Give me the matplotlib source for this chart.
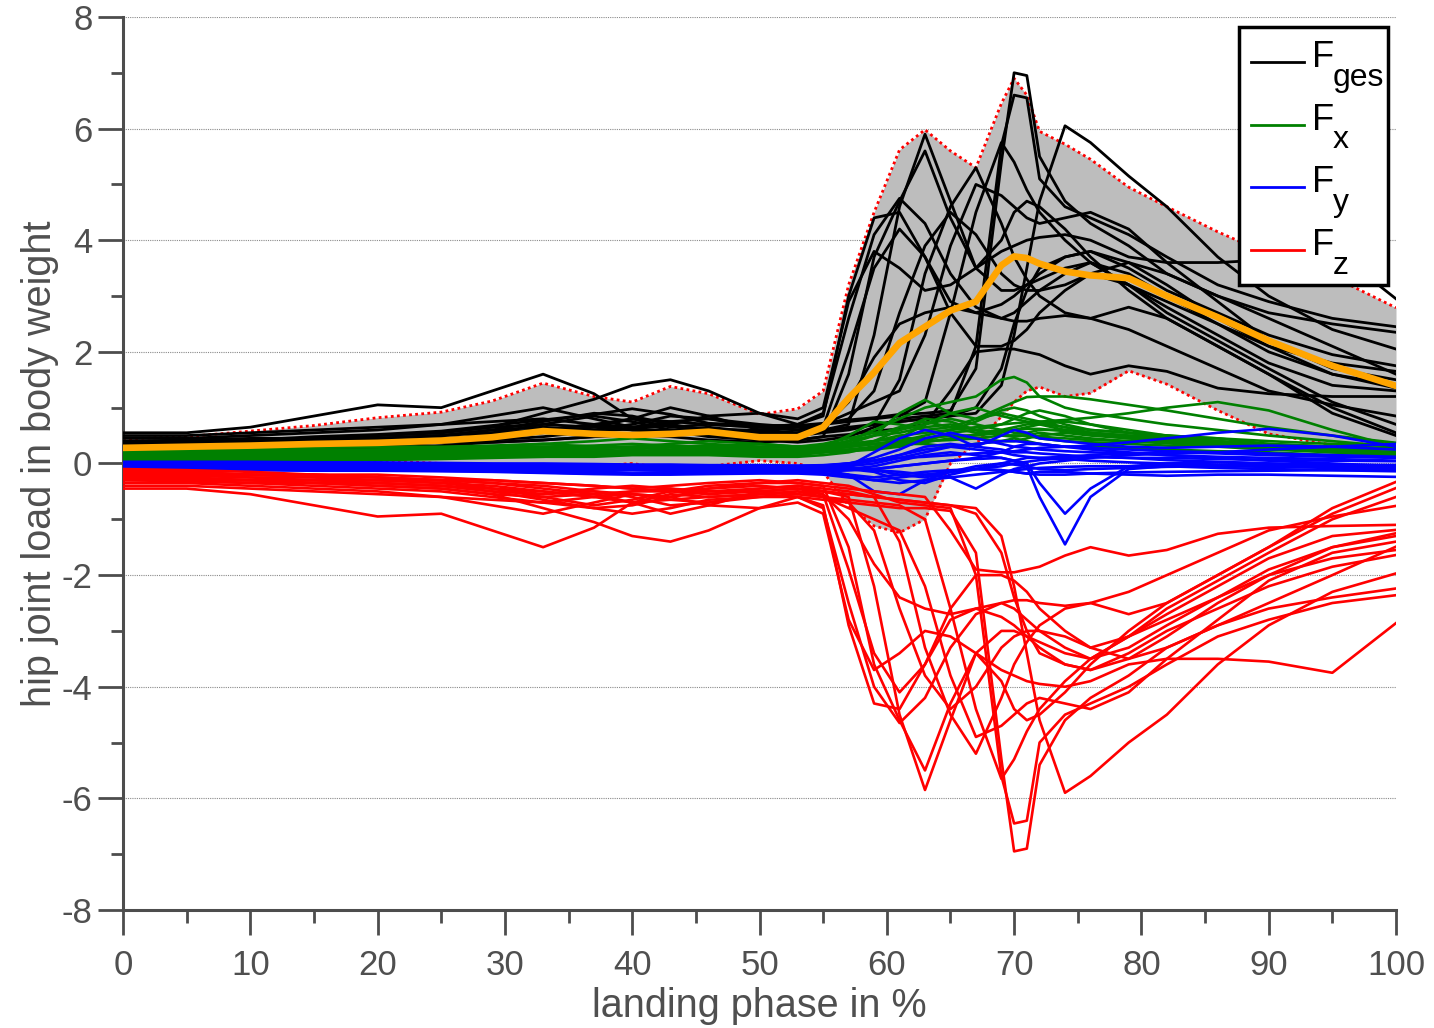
import matplotlib
matplotlib.use("Agg")
import matplotlib.pyplot as plt
from matplotlib.patches import Rectangle
from matplotlib.ticker import MultipleLocator

plt.rcParams['font.family'] = ['Liberation Sans', 'DejaVu Sans']
plt.rcParams['axes.unicode_minus'] = False

# landing phase grid (%)
phase = [0, 5, 10, 15, 20, 25,
         29, 33, 37, 40, 43, 46, 50,
         53, 55, 57, 59, 61, 63, 65,
         67, 69, 70, 71, 72, 74,
         76, 79, 82, 86, 90, 95, 100]

# mean resultant load and its spread band
mean_ges = [0.28, 0.30, 0.32, 0.35, 0.37, 0.41,
            0.47, 0.58, 0.53, 0.51, 0.53, 0.57, 0.47,
            0.47, 0.65, 1.17, 1.63, 2.16, 2.45, 2.74,
            2.90, 3.55, 3.71, 3.68, 3.58, 3.44,
            3.37, 3.32, 3.00, 2.62, 2.20, 1.75, 1.39]
band_upper = [0.44, 0.48, 0.58, 0.68, 0.82, 0.92,
              1.12, 1.44, 1.20, 1.10, 1.38, 1.25, 0.88,
              0.98, 1.30, 3.20, 4.50, 5.62, 5.98, 5.60,
              5.30, 6.45, 6.90, 6.60, 5.95, 5.72,
              5.45, 4.95, 4.60, 4.15, 3.75, 3.35, 2.79]
band_lower = [0.15, 0.15, 0.14, 0.10, 0.05, 0.00,
              -0.05, -0.10, -0.05, 0.00, -0.10, -0.05, 0.05,
              0.00, -0.15, -0.75, -1.12, -1.24, -1.00, 0.00,
              0.35, 0.84, 1.10, 1.30, 1.37, 1.20,
              1.26, 1.66, 1.42, 0.95, 0.53, 0.33, 0.37]

# resultant hip joint load per trial
f_ges = [
    [0.55, 0.55, 0.65, 0.85, 1.05, 1.00, 1.30, 1.60, 1.25, 0.80, 0.65, 0.70, 0.65,
     0.70, 0.90, 2.60, 4.10, 4.75, 4.30, 3.40, 2.80, 2.60, 2.70, 2.90, 3.10, 3.40,
     3.60, 3.40, 3.00, 2.50, 2.10, 1.80, 1.65],
    [0.35, 0.40, 0.40, 0.45, 0.50, 0.55, 0.65, 0.90, 1.15, 1.40, 1.50, 1.30, 0.90,
     0.70, 0.85, 3.00, 4.40, 4.50, 3.70, 2.90, 2.70, 2.85, 3.00, 3.20, 3.40, 3.70,
     3.80, 3.50, 3.10, 2.70, 2.30, 1.95, 1.75],
    [0.30, 0.30, 0.35, 0.35, 0.40, 0.45, 0.50, 0.60, 0.70, 0.60, 0.55, 0.60, 0.55,
     0.50, 0.60, 0.70, 2.30, 4.60, 5.90, 4.70, 3.50, 3.10, 3.10, 3.20, 3.30, 3.50,
     3.60, 3.20, 2.70, 2.20, 1.70, 1.10, 0.70],
    [0.22, 0.22, 0.28, 0.28, 0.32, 0.38, 0.42, 0.48, 0.58, 0.62, 0.68, 0.52, 0.42,
     0.42, 0.48, 1.60, 3.70, 4.70, 5.60, 4.40, 3.50, 4.00, 4.50, 4.70, 4.60, 4.20,
     3.70, 3.10, 2.60, 2.10, 1.60, 1.00, 0.55],
    [0.38, 0.38, 0.42, 0.48, 0.52, 0.58, 0.68, 0.78, 0.88, 0.98, 0.88, 0.72, 0.68,
     0.68, 0.72, 0.78, 0.82, 0.88, 0.90, 0.95, 1.70, 5.40, 7.00, 6.95, 5.50, 4.70,
     4.30, 3.90, 3.40, 3.00, 2.70, 2.50, 2.35],
    [0.18, 0.20, 0.22, 0.28, 0.28, 0.32, 0.38, 0.42, 0.48, 0.52, 0.58, 0.48, 0.42,
     0.38, 0.42, 0.48, 0.65, 0.80, 0.85, 0.90, 2.10, 5.70, 6.60, 6.55, 5.10, 4.60,
     4.40, 4.10, 3.70, 3.20, 2.90, 2.60, 2.45],
    [0.28, 0.30, 0.32, 0.38, 0.38, 0.42, 0.52, 0.62, 0.52, 0.48, 0.52, 0.62, 0.58,
     0.52, 0.58, 0.62, 0.70, 0.75, 0.80, 0.85, 0.90, 1.40, 2.30, 3.50, 4.70, 6.05,
     5.75, 5.15, 4.60, 3.70, 3.00, 2.40, 2.05],
    [0.45, 0.45, 0.50, 0.55, 0.60, 0.70, 0.85, 1.00, 0.80, 0.65, 0.70, 0.85, 0.90,
     0.80, 1.00, 2.90, 3.80, 3.50, 3.10, 3.20, 3.50, 3.80, 3.90, 4.00, 4.05, 4.10,
     4.00, 3.70, 3.60, 3.60, 3.65, 3.85, 2.95],
    [0.20, 0.25, 0.30, 0.30, 0.35, 0.40, 0.55, 0.70, 0.85, 0.75, 0.60, 0.55, 0.50,
     0.55, 0.65, 2.00, 3.50, 4.20, 3.70, 2.70, 2.10, 2.10, 2.20, 2.40, 2.70, 3.10,
     3.40, 3.20, 2.80, 2.30, 1.80, 1.40, 1.30],
    [0.38, 0.38, 0.40, 0.45, 0.45, 0.50, 0.60, 0.65, 0.60, 0.70, 0.85, 0.80, 0.65,
     0.60, 0.70, 0.80, 1.30, 2.70, 3.90, 4.50, 4.10, 3.40, 3.20, 3.10, 3.10, 3.20,
     3.40, 3.60, 3.40, 3.00, 2.60, 2.10, 1.60],
    [0.28, 0.30, 0.30, 0.35, 0.40, 0.40, 0.45, 0.55, 0.65, 0.60, 0.60, 0.65, 0.55,
     0.50, 0.55, 0.60, 0.70, 1.50, 3.40, 4.60, 5.30, 4.30, 3.70, 3.30, 3.00, 2.70,
     2.60, 2.80, 2.60, 2.10, 1.60, 0.90, 0.50],
    [0.32, 0.35, 0.40, 0.40, 0.45, 0.50, 0.60, 0.75, 0.90, 0.85, 0.70, 0.60, 0.60,
     0.65, 0.70, 0.75, 0.80, 0.85, 1.10, 2.70, 4.50, 5.75, 5.40, 4.90, 4.50, 4.00,
     3.60, 3.20, 2.90, 2.50, 2.00, 1.60, 1.40],
    [0.50, 0.50, 0.55, 0.60, 0.65, 0.70, 0.75, 0.80, 0.70, 0.65, 0.75, 0.80, 0.70,
     0.65, 0.70, 0.90, 1.10, 1.30, 2.30, 3.90, 5.00, 4.80, 4.60, 4.40, 4.30, 4.40,
     4.50, 4.20, 3.60, 2.90, 2.20, 1.70, 1.50],
    [0.22, 0.25, 0.28, 0.30, 0.32, 0.38, 0.38, 0.42, 0.48, 0.52, 0.48, 0.42, 0.38,
     0.42, 0.48, 0.52, 0.58, 0.62, 0.70, 1.30, 2.00, 2.05, 2.05, 2.00, 1.95, 1.75,
     1.60, 1.75, 1.65, 1.35, 1.25, 1.20, 1.20],
    [0.40, 0.42, 0.45, 0.45, 0.50, 0.55, 0.65, 0.70, 0.65, 0.80, 1.00, 0.85, 0.60,
     0.55, 0.60, 0.65, 0.70, 0.75, 0.80, 0.85, 1.00, 1.70, 2.50, 3.10, 3.50, 3.70,
     3.80, 3.60, 3.20, 2.60, 2.10, 1.60, 1.35],
    [0.35, 0.35, 0.40, 0.40, 0.45, 0.50, 0.55, 0.60, 0.70, 0.80, 0.75, 0.70, 0.65,
     0.60, 0.65, 1.10, 1.90, 2.50, 2.70, 2.80, 2.70, 2.60, 2.55, 2.55, 2.60, 2.65,
     2.60, 2.40, 2.10, 1.70, 1.30, 1.05, 0.85],
]

# load components per trial
f_x = [
    [0.10, 0.10, 0.12, 0.12, 0.15, 0.15, 0.18, 0.20, 0.20, 0.20, 0.22, 0.22, 0.20,
     0.20, 0.25, 0.40, 0.60, 0.80, 1.00, 1.10, 1.20, 1.50, 1.55, 1.45, 1.20, 1.00,
     0.90, 0.80, 0.70, 0.60, 0.50, 0.40, 0.30],
    [0.05, 0.05, 0.06, 0.08, 0.10, 0.10, 0.12, 0.15, 0.18, 0.20, 0.20, 0.18, 0.15,
     0.15, 0.20, 0.35, 0.50, 0.90, 1.14, 0.90, 0.80, 1.00, 1.10, 1.19, 1.20, 1.20,
     1.15, 1.05, 0.95, 0.80, 0.65, 0.50, 0.37],
    [0.15, 0.15, 0.15, 0.18, 0.20, 0.20, 0.22, 0.25, 0.25, 0.22, 0.20, 0.20, 0.20,
     0.22, 0.25, 0.30, 0.35, 0.40, 0.50, 0.60, 0.65, 0.70, 0.72, 0.74, 0.75, 0.78,
     0.82, 0.90, 1.00, 1.10, 0.95, 0.60, 0.30],
    [0.20, 0.20, 0.22, 0.22, 0.25, 0.28, 0.30, 0.35, 0.30, 0.28, 0.30, 0.32, 0.30,
     0.28, 0.30, 0.50, 0.75, 0.70, 0.60, 0.65, 0.80, 0.90, 0.85, 0.80, 0.75, 0.65,
     0.60, 0.55, 0.50, 0.45, 0.35, 0.30, 0.25],
    [0.08, 0.08, 0.10, 0.10, 0.12, 0.12, 0.15, 0.18, 0.20, 0.25, 0.30, 0.28, 0.22,
     0.20, 0.20, 0.25, 0.30, 0.45, 0.70, 0.90, 1.00, 0.85, 0.80, 0.75, 0.70, 0.60,
     0.55, 0.50, 0.45, 0.40, 0.30, 0.22, 0.18],
    [0.12, 0.12, 0.13, 0.15, 0.15, 0.18, 0.20, 0.22, 0.20, 0.20, 0.25, 0.30, 0.35,
     0.30, 0.30, 0.35, 0.40, 0.45, 0.45, 0.50, 0.50, 0.55, 0.60, 0.65, 0.70, 0.75,
     0.70, 0.60, 0.50, 0.40, 0.30, 0.25, 0.20],
    [0.05, 0.06, 0.06, 0.07, 0.08, 0.10, 0.12, 0.12, 0.15, 0.18, 0.20, 0.20, 0.18,
     0.20, 0.25, 0.30, 0.35, 0.40, 0.45, 0.50, 0.45, 0.40, 0.40, 0.45, 0.50, 0.55,
     0.50, 0.45, 0.40, 0.35, 0.28, 0.20, 0.15],
    [0.18, 0.18, 0.20, 0.20, 0.22, 0.25, 0.28, 0.30, 0.32, 0.35, 0.32, 0.30, 0.28,
     0.30, 0.35, 0.45, 0.55, 0.60, 0.70, 0.80, 0.70, 0.60, 0.55, 0.55, 0.60, 0.60,
     0.55, 0.50, 0.45, 0.40, 0.35, 0.30, 0.28],
    [0.10, 0.10, 0.10, 0.12, 0.12, 0.15, 0.15, 0.20, 0.25, 0.20, 0.18, 0.20, 0.22,
     0.25, 0.28, 0.30, 0.40, 0.60, 0.80, 0.75, 0.60, 0.50, 0.50, 0.50, 0.45, 0.40,
     0.38, 0.35, 0.32, 0.30, 0.25, 0.20, 0.15],
    [0.22, 0.22, 0.22, 0.25, 0.25, 0.28, 0.30, 0.30, 0.28, 0.30, 0.35, 0.40, 0.35,
     0.30, 0.30, 0.35, 0.40, 0.50, 0.55, 0.60, 0.75, 0.95, 1.00, 0.95, 0.85, 0.70,
     0.60, 0.55, 0.50, 0.45, 0.40, 0.35, 0.32],
    [0.03, 0.03, 0.05, 0.05, 0.06, 0.08, 0.10, 0.12, 0.12, 0.15, 0.15, 0.15, 0.12,
     0.12, 0.15, 0.20, 0.30, 0.35, 0.35, 0.30, 0.35, 0.40, 0.45, 0.40, 0.35, 0.30,
     0.30, 0.28, 0.25, 0.22, 0.20, 0.15, 0.12],
    [0.15, 0.15, 0.17, 0.18, 0.20, 0.22, 0.25, 0.28, 0.30, 0.28, 0.25, 0.25, 0.25,
     0.25, 0.30, 0.40, 0.50, 0.55, 0.65, 0.70, 0.60, 0.50, 0.48, 0.50, 0.55, 0.50,
     0.45, 0.40, 0.38, 0.35, 0.30, 0.25, 0.20],
    [0.06, 0.07, 0.08, 0.10, 0.10, 0.12, 0.14, 0.16, 0.18, 0.20, 0.20, 0.20, 0.20,
     0.18, 0.20, 0.22, 0.25, 0.30, 0.40, 0.55, 0.60, 0.70, 0.80, 0.90, 0.95, 0.85,
     0.70, 0.55, 0.45, 0.38, 0.30, 0.22, 0.18],
    [0.25, 0.25, 0.25, 0.28, 0.30, 0.30, 0.32, 0.35, 0.40, 0.45, 0.40, 0.35, 0.30,
     0.30, 0.32, 0.40, 0.50, 0.65, 0.75, 0.65, 0.55, 0.60, 0.65, 0.70, 0.72, 0.65,
     0.55, 0.48, 0.42, 0.38, 0.33, 0.28, 0.25],
    [0.10, 0.11, 0.12, 0.13, 0.14, 0.15, 0.16, 0.18, 0.20, 0.22, 0.22, 0.22, 0.20,
     0.22, 0.22, 0.25, 0.28, 0.32, 0.38, 0.45, 0.52, 0.58, 0.60, 0.62, 0.62, 0.58,
     0.52, 0.45, 0.40, 0.35, 0.28, 0.22, 0.18],
    [0.14, 0.14, 0.15, 0.16, 0.18, 0.20, 0.22, 0.25, 0.28, 0.30, 0.30, 0.28, 0.25,
     0.22, 0.25, 0.30, 0.35, 0.38, 0.40, 0.42, 0.45, 0.50, 0.50, 0.50, 0.48, 0.45,
     0.42, 0.40, 0.36, 0.32, 0.28, 0.22, 0.20],
]

f_y = [
    [-0.02, -0.02, -0.03, -0.03, -0.04, -0.05, -0.06, -0.08, -0.08, -0.07, -0.08, -0.10, -0.10,
     -0.10, -0.12, -0.20, -0.50, -0.55, -0.30, -0.15, -0.10, -0.05, 0.00, 0.03, 0.06, 0.10,
     0.12, 0.10, 0.06, 0.03, 0.00, -0.02, -0.03],
    [0.01, 0.01, 0.00, 0.00, -0.01, -0.02, -0.03, -0.04, -0.05, -0.05, -0.06, -0.06, -0.07,
     -0.08, -0.08, -0.10, -0.12, -0.15, -0.20, -0.25, -0.45, -0.20, -0.10, -0.05, 0.00, 0.05,
     0.10, 0.15, 0.18, 0.20, 0.25, 0.30, 0.35],
    [-0.06, -0.06, -0.07, -0.08, -0.08, -0.10, -0.12, -0.15, -0.14, -0.12, -0.13, -0.15, -0.16,
     -0.15, -0.15, -0.12, -0.10, -0.05, 0.00, 0.05, 0.08, 0.10, 0.05, -0.05, -0.60, -1.45,
     -0.60, -0.10, -0.05, -0.08, -0.10, -0.12, -0.14],
    [-0.04, -0.04, -0.05, -0.05, -0.06, -0.07, -0.08, -0.10, -0.12, -0.11, -0.10, -0.12, -0.13,
     -0.12, -0.12, -0.10, -0.05, 0.05, 0.15, 0.20, 0.15, 0.10, 0.05, 0.00, -0.35, -0.90,
     -0.45, -0.05, 0.00, 0.02, 0.00, -0.05, -0.08],
    [0.02, 0.02, 0.02, 0.01, 0.00, 0.00, -0.01, -0.02, -0.02, -0.03, -0.04, -0.05, -0.05,
     -0.06, -0.05, 0.00, 0.10, 0.25, 0.45, 0.55, 0.45, 0.35, 0.30, 0.28, 0.25, 0.22,
     0.20, 0.18, 0.15, 0.12, 0.10, 0.08, 0.05],
    [-0.08, -0.08, -0.09, -0.10, -0.10, -0.11, -0.12, -0.14, -0.16, -0.18, -0.17, -0.16, -0.15,
     -0.16, -0.18, -0.22, -0.30, -0.25, -0.20, -0.15, -0.10, -0.12, -0.15, -0.18, -0.15, -0.15,
     -0.18, -0.20, -0.22, -0.20, -0.20, -0.22, -0.24],
    [0.00, 0.00, 0.00, -0.01, -0.01, -0.02, -0.02, -0.03, -0.04, -0.04, -0.05, -0.05, -0.04,
     -0.04, -0.03, 0.00, 0.05, 0.10, 0.12, 0.15, 0.18, 0.20, 0.22, 0.25, 0.28, 0.30,
     0.32, 0.38, 0.45, 0.55, 0.62, 0.50, 0.30],
    [-0.03, -0.03, -0.04, -0.04, -0.05, -0.05, -0.06, -0.07, -0.08, -0.08, -0.09, -0.09, -0.10,
     -0.10, -0.10, -0.05, 0.20, 0.45, 0.60, 0.50, 0.30, 0.25, 0.20, 0.20, 0.18, 0.15,
     0.12, 0.10, 0.10, 0.08, 0.06, 0.05, 0.04],
    [-0.10, -0.10, -0.11, -0.12, -0.12, -0.13, -0.14, -0.16, -0.18, -0.18, -0.18, -0.17, -0.16,
     -0.17, -0.18, -0.20, -0.25, -0.20, -0.15, -0.12, -0.10, -0.12, -0.15, -0.18, -0.20, -0.20,
     -0.18, -0.16, -0.15, -0.14, -0.13, -0.12, -0.12],
    [-0.01, -0.01, -0.02, -0.02, -0.02, -0.03, -0.04, -0.05, -0.05, -0.06, -0.06, -0.07, -0.07,
     -0.07, -0.07, -0.05, 0.00, 0.10, 0.20, 0.30, 0.35, 0.40, 0.40, 0.38, 0.35, 0.30,
     0.28, 0.25, 0.22, 0.20, 0.18, 0.15, 0.12],
    [-0.05, -0.05, -0.06, -0.06, -0.07, -0.08, -0.10, -0.12, -0.10, -0.08, -0.10, -0.12, -0.12,
     -0.11, -0.10, -0.10, -0.15, -0.30, -0.35, -0.20, -0.10, 0.00, 0.05, 0.10, 0.10, 0.08,
     0.05, 0.02, 0.00, -0.02, -0.04, -0.06, -0.08],
    [0.03, 0.03, 0.03, 0.02, 0.02, 0.01, 0.00, 0.00, -0.01, -0.02, -0.02, -0.03, -0.03,
     -0.04, -0.04, 0.00, 0.05, 0.15, 0.30, 0.35, 0.30, 0.50, 0.60, 0.55, 0.45, 0.40,
     0.35, 0.30, 0.28, 0.30, 0.32, 0.30, 0.25],
    [-0.07, -0.07, -0.08, -0.08, -0.09, -0.10, -0.10, -0.11, -0.12, -0.12, -0.13, -0.14, -0.14,
     -0.13, -0.13, -0.12, -0.10, -0.05, 0.00, 0.05, 0.10, 0.20, 0.30, 0.35, 0.35, 0.30,
     0.25, 0.20, 0.15, 0.10, 0.05, 0.00, -0.05],
    [-0.02, -0.02, -0.02, -0.03, -0.03, -0.04, -0.05, -0.06, -0.06, -0.05, -0.05, -0.06, -0.06,
     -0.06, -0.06, -0.08, -0.12, -0.20, -0.25, -0.15, -0.05, 0.00, -0.02, -0.05, -0.10, -0.12,
     -0.10, -0.08, -0.06, -0.05, -0.06, -0.08, -0.10],
    [-0.12, -0.12, -0.12, -0.13, -0.13, -0.14, -0.15, -0.17, -0.19, -0.20, -0.20, -0.19, -0.18,
     -0.18, -0.20, -0.25, -0.30, -0.35, -0.30, -0.25, -0.20, -0.15, -0.12, -0.10, -0.08, -0.06,
     -0.05, -0.05, -0.04, -0.03, -0.03, -0.03, -0.03],
    [0.00, 0.00, 0.00, 0.00, -0.01, -0.01, -0.02, -0.02, -0.03, -0.03, -0.03, -0.04, -0.04,
     -0.05, -0.05, -0.03, 0.05, 0.15, 0.25, 0.30, 0.25, 0.20, 0.15, 0.12, 0.10, 0.12,
     0.15, 0.18, 0.20, 0.18, 0.15, 0.12, 0.10],
]

f_z = [
    [-0.45, -0.45, -0.55, -0.75, -0.95, -0.90, -1.20, -1.50, -1.15, -0.70, -0.55, -0.60, -0.55,
     -0.60, -0.80, -2.50, -4.00, -4.65, -4.20, -3.30, -2.70, -2.50, -2.60, -2.80, -3.00, -3.30,
     -3.50, -3.30, -2.90, -2.40, -2.00, -1.70, -1.55],
    [-0.25, -0.30, -0.30, -0.35, -0.40, -0.45, -0.55, -0.80, -1.05, -1.30, -1.40, -1.20, -0.80,
     -0.60, -0.75, -2.90, -4.30, -4.40, -3.60, -2.80, -2.60, -2.75, -2.90, -3.10, -3.30, -3.60,
     -3.70, -3.40, -3.00, -2.60, -2.20, -1.85, -1.64],
    [-0.20, -0.20, -0.25, -0.25, -0.30, -0.35, -0.40, -0.50, -0.60, -0.50, -0.45, -0.50, -0.45,
     -0.40, -0.50, -0.60, -2.20, -4.50, -5.85, -4.60, -3.40, -3.00, -3.00, -3.10, -3.20, -3.40,
     -3.50, -3.10, -2.60, -2.10, -1.60, -1.00, -0.60],
    [-0.15, -0.15, -0.20, -0.20, -0.25, -0.30, -0.35, -0.40, -0.50, -0.55, -0.60, -0.45, -0.35,
     -0.35, -0.40, -1.50, -3.60, -4.60, -5.50, -4.30, -3.40, -3.90, -4.40, -4.60, -4.50, -4.10,
     -3.60, -3.00, -2.50, -2.00, -1.50, -0.90, -0.44],
    [-0.30, -0.30, -0.35, -0.40, -0.45, -0.50, -0.60, -0.70, -0.80, -0.90, -0.80, -0.65, -0.60,
     -0.60, -0.65, -0.70, -0.75, -0.80, -0.80, -0.85, -1.60, -5.30, -6.95, -6.90, -5.40, -4.60,
     -4.20, -3.80, -3.30, -2.90, -2.60, -2.40, -2.24],
    [-0.10, -0.12, -0.15, -0.20, -0.20, -0.25, -0.30, -0.35, -0.40, -0.45, -0.50, -0.40, -0.35,
     -0.30, -0.35, -0.40, -0.55, -0.70, -0.75, -0.80, -2.00, -5.60, -6.45, -6.40, -5.00, -4.50,
     -4.30, -4.00, -3.60, -3.10, -2.80, -2.50, -2.36],
    [-0.20, -0.22, -0.25, -0.30, -0.30, -0.35, -0.45, -0.55, -0.45, -0.40, -0.45, -0.55, -0.50,
     -0.45, -0.50, -0.55, -0.60, -0.65, -0.70, -0.75, -0.80, -1.30, -2.20, -3.40, -4.60, -5.90,
     -5.60, -5.00, -4.50, -3.60, -2.90, -2.30, -1.97],
    [-0.35, -0.35, -0.40, -0.45, -0.50, -0.60, -0.75, -0.90, -0.70, -0.55, -0.60, -0.75, -0.80,
     -0.70, -0.90, -2.80, -3.70, -3.40, -3.00, -3.10, -3.40, -3.70, -3.80, -3.90, -3.95, -4.00,
     -3.90, -3.60, -3.50, -3.50, -3.55, -3.75, -2.86],
    [-0.12, -0.15, -0.20, -0.20, -0.25, -0.30, -0.45, -0.60, -0.75, -0.65, -0.50, -0.45, -0.40,
     -0.45, -0.55, -1.90, -3.40, -4.10, -3.60, -2.60, -2.00, -2.00, -2.10, -2.30, -2.60, -3.00,
     -3.30, -3.10, -2.70, -2.20, -1.70, -1.30, -1.19],
    [-0.28, -0.28, -0.30, -0.35, -0.35, -0.40, -0.50, -0.55, -0.50, -0.60, -0.75, -0.70, -0.55,
     -0.50, -0.60, -0.70, -1.20, -2.60, -3.80, -4.40, -4.00, -3.30, -3.10, -3.00, -3.00, -3.10,
     -3.30, -3.50, -3.30, -2.90, -2.50, -2.00, -1.49],
    [-0.18, -0.20, -0.20, -0.25, -0.30, -0.30, -0.35, -0.45, -0.55, -0.50, -0.50, -0.55, -0.45,
     -0.40, -0.45, -0.50, -0.60, -1.40, -3.30, -4.50, -5.20, -4.20, -3.60, -3.20, -2.90, -2.60,
     -2.50, -2.70, -2.50, -2.00, -1.50, -0.80, -0.33],
    [-0.22, -0.25, -0.30, -0.30, -0.35, -0.40, -0.50, -0.65, -0.80, -0.75, -0.60, -0.50, -0.50,
     -0.55, -0.60, -0.65, -0.70, -0.75, -1.00, -2.60, -4.40, -5.65, -5.30, -4.80, -4.40, -3.90,
     -3.50, -3.10, -2.80, -2.40, -1.90, -1.50, -1.30],
    [-0.40, -0.40, -0.45, -0.50, -0.55, -0.60, -0.65, -0.70, -0.60, -0.55, -0.65, -0.70, -0.60,
     -0.55, -0.60, -0.80, -1.00, -1.20, -2.20, -3.80, -4.90, -4.70, -4.50, -4.30, -4.20, -4.30,
     -4.40, -4.10, -3.50, -2.80, -2.10, -1.60, -1.40],
    [-0.15, -0.18, -0.20, -0.22, -0.25, -0.30, -0.30, -0.35, -0.40, -0.45, -0.40, -0.35, -0.30,
     -0.35, -0.40, -0.45, -0.50, -0.55, -0.60, -1.20, -1.90, -1.95, -1.95, -1.90, -1.85, -1.65,
     -1.50, -1.65, -1.55, -1.26, -1.15, -1.12, -1.10],
    [-0.30, -0.32, -0.35, -0.35, -0.40, -0.45, -0.55, -0.60, -0.55, -0.70, -0.90, -0.75, -0.50,
     -0.45, -0.50, -0.55, -0.60, -0.65, -0.70, -0.75, -0.90, -1.60, -2.40, -3.00, -3.40, -3.60,
     -3.70, -3.50, -3.10, -2.50, -2.00, -1.50, -1.25],
    [-0.25, -0.25, -0.30, -0.30, -0.35, -0.40, -0.45, -0.50, -0.60, -0.70, -0.65, -0.60, -0.55,
     -0.50, -0.55, -1.00, -1.80, -2.40, -2.60, -2.70, -2.60, -2.50, -2.45, -2.45, -2.50, -2.55,
     -2.50, -2.30, -2.00, -1.60, -1.20, -0.95, -0.76],
]

legend_labels = ['ges', 'x', 'y', 'z']
legend_colors = ['black', 'green', 'blue', 'red']

axis_grey = '#4d4d4d'
text_grey = '#4f4f4f'

fig = plt.figure(figsize=(14.34, 10.28), dpi=100)
ax = fig.add_axes([0.0858, 0.1148, 0.8877, 0.8687])

# spread band with dotted red border
ax.fill_between(phase, band_lower, band_upper, color='#bdbdbd', lw=0, zorder=1)
for edge in (band_upper, band_lower):
    ax.plot(phase, edge, color='red', lw=2.0, ls=(0, (1, 1.2)), zorder=2)

for curve in f_ges:
    ax.plot(phase, curve, color='black', lw=2.0, zorder=3)
for curve in f_x:
    ax.plot(phase, curve, color='green', lw=1.9, zorder=4)
for curve in f_y:
    ax.plot(phase, curve, color='blue', lw=1.9, zorder=5)
for curve in f_z:
    ax.plot(phase, curve, color='red', lw=1.9, zorder=6)

ax.plot(phase, mean_ges, color='orange', lw=4.8, zorder=7, solid_capstyle='round')

ax.set_xlim(0, 100)
ax.set_ylim(-8, 8)
ax.xaxis.set_major_locator(MultipleLocator(10))
ax.xaxis.set_minor_locator(MultipleLocator(5))
ax.yaxis.set_major_locator(MultipleLocator(2))
ax.yaxis.set_minor_locator(MultipleLocator(1))

ax.yaxis.grid(True, which='major', color='#8a8a8a', ls=(0, (1, 1)), lw=0.8)
ax.set_axisbelow(True)

for side in ('top', 'right'):
    ax.spines[side].set_visible(False)
for side in ('left', 'bottom'):
    ax.spines[side].set_color(axis_grey)
    ax.spines[side].set_linewidth(2.2)

ax.tick_params(which='major', direction='out', length=18, width=2,
               color=axis_grey, labelcolor=text_grey, labelsize=25)
ax.tick_params(which='minor', direction='out', length=9, width=2, color=axis_grey)
ax.tick_params(axis='x', which='major', pad=10)
ax.tick_params(axis='y', which='major', pad=4)

ax.set_xlabel('landing phase in %', fontsize=28.5, color=text_grey, labelpad=4)
ax.set_ylabel('hip joint load in body weight', fontsize=28.5, color=text_grey, labelpad=2)

# legend box drawn by hand so the subscripts can sit at full size
box = Rectangle((0.8767, 0.700), 0.117, 0.2888, transform=ax.transAxes,
                facecolor='white', edgecolor='black', lw=2.5, zorder=20, clip_on=False)
ax.add_patch(box)
row_step = 0.0702
for i, (sub, col) in enumerate(zip(legend_labels, legend_colors)):
    y_line = 0.9496 - i * row_step
    ax.plot([0.8858, 0.9277], [y_line, y_line], color=col, lw=2,
            transform=ax.transAxes, zorder=21, clip_on=False)
    ax.text(0.9338, 0.944 - i * row_step, 'F', fontsize=26, color='black',
            ha='left', va='baseline', transform=ax.transAxes, zorder=21)
    ax.text(0.9505, 0.923 - i * row_step, sub, fontsize=23, color='black',
            ha='left', va='baseline', transform=ax.transAxes, zorder=21)

fig.savefig('out.png', dpi=100)
